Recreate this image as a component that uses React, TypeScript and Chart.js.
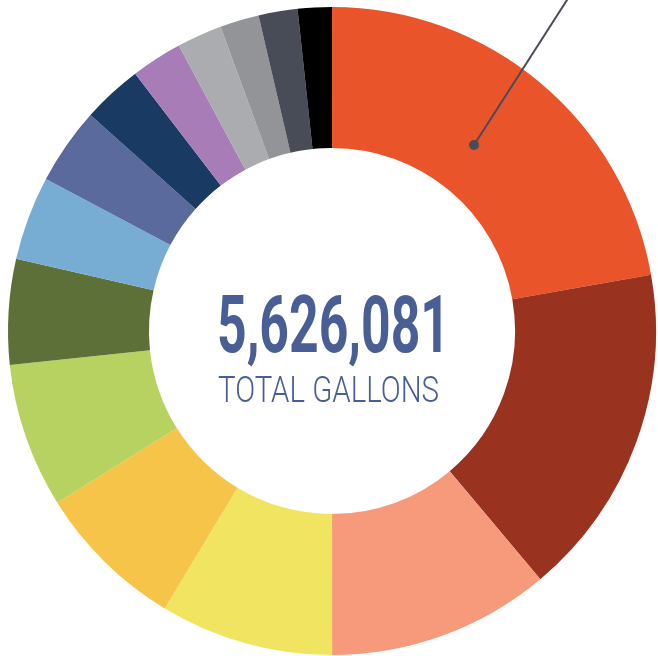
import { useEffect, useRef } from "react";
import { Chart, registerables } from "chart.js";

Chart.register(...registerables);

const categories = [
  "Segment 1", "Segment 2", "Segment 3", "Segment 4", "Segment 5",
  "Segment 6", "Segment 7", "Segment 8", "Segment 9", "Segment 10",
  "Segment 11", "Segment 12", "Segment 13", "Segment 14", "Segment 15",
];

const gallons = [
  1250000, 937700, 625100, 486000, 420400,
  406300, 295400, 236000, 215700, 168800,
  143800, 126600, 109400, 109400, 95481,
];

const colors = [
  "#E9542B", "#99321F", "#F79A7B", "#F0E461", "#F5C448",
  "#B8D262", "#5C7037", "#78ADD3", "#5B6A9D", "#183A63",
  "#A87DB7", "#ABACB0", "#939497", "#474C56", "#000000",
];

const totalLabel = "5,626,081";
const subtitleLabel = "TOTAL GALLONS";

const centerTextPlugin = {
  id: "centerText",
  afterDatasetsDraw(chart: any) {
    const meta = chart.getDatasetMeta(0);
    const arc = meta.data[0];
    if (!arc) return;
    const cx = arc.x;
    const cy = arc.y;
    const ctx: CanvasRenderingContext2D = chart.ctx;
    ctx.save();

    // leader line with dot
    ctx.strokeStyle = "#474C56";
    ctx.fillStyle = "#474C56";
    ctx.lineWidth = 2;
    ctx.beginPath();
    ctx.moveTo(cx + 142, cy - 186);
    ctx.lineTo(cx + 142 + 93 * 1.1, cy - 186 - 145 * 1.1);
    ctx.stroke();
    ctx.beginPath();
    ctx.arc(cx + 142, cy - 186, 5, 0, Math.PI * 2);
    ctx.fill();

    // center text
    ctx.fillStyle = "#4A5E96";
    ctx.textAlign = "center";
    ctx.textBaseline = "alphabetic";
    ctx.font = 'bold 80px Roboto, "DejaVu Sans Condensed", sans-serif';
    const w1 = ctx.measureText(totalLabel).width;
    ctx.save();
    ctx.translate(cx + 1.5, cy + 21);
    ctx.scale(233 / w1, 1);
    ctx.fillText(totalLabel, 0, 0);
    ctx.restore();

    ctx.font = '300 36px Roboto, "DejaVu Sans Condensed", sans-serif';
    const w2 = ctx.measureText(subtitleLabel).width;
    ctx.save();
    ctx.translate(cx - 3.5, cy + 70.5);
    ctx.scale(221 / w2, 1);
    ctx.fillText(subtitleLabel, 0, 0);
    ctx.restore();

    ctx.restore();
  },
};

export default function App() {
  const canvasRef = useRef<HTMLCanvasElement | null>(null);

  useEffect(() => {
    if (!canvasRef.current) return;
    const chart = new Chart(canvasRef.current, {
      type: "doughnut",
      data: {
        labels: categories,
        datasets: [
          {
            data: gallons,
            backgroundColor: colors,
            borderWidth: 0,
            hoverOffset: 0,
            offset: 0,
          },
        ],
      },
      options: {
        responsive: false,
        animation: false,
        cutout: "56.5%",
        rotation: 0,
        layout: { padding: { left: 8, right: 2, top: 7, bottom: 1 } },
        plugins: {
          legend: { display: false },
          tooltip: { enabled: false },
        },
      },
      plugins: [centerTextPlugin],
    });
    return () => chart.destroy();
  }, []);

  return (
    <div style={{ position: "absolute", left: 0, top: 0, width: 658, height: 656, background: "#fff" }}>
      <canvas ref={canvasRef} width={658} height={656} style={{ width: 658, height: 656, display: "block" }} />
    </div>
  );
}
